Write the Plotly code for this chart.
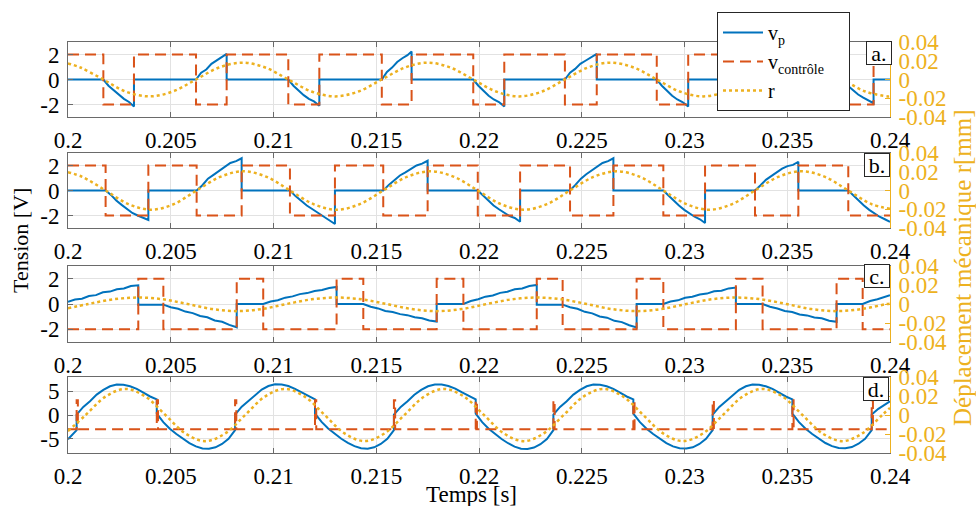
import plotly.graph_objects as go

FONT = "Liberation Serif, Times New Roman, serif"
BLUE = "#0072BD"
ORANGE = "#D95319"
YELLOW = "#EDB120"
AXC = "#6a6a6a"
GRID = "#e2e2e2"
TICK_SIZE = 23

# ---------------- ticks ----------------
x_ticks = [0.2, 0.205, 0.21, 0.215, 0.22, 0.225, 0.23, 0.235, 0.24]
x_tick_text = ["0.2", "0.205", "0.21", "0.215", "0.22", "0.225", "0.23", "0.235", "0.24"]
r_ticks = [-0.04, -0.02, 0, 0.02, 0.04]
r_tick_text = ["-0.04", "-0.02", "0", "0.02", "0.04"]
v_ticks_abc = [-2, 0, 2]
v_ticks_d = [-5, 0, 5]
panel_labels = ["a.", "b.", "c.", "d."]
legend_names = ["v<sub>p</sub>", "v<sub>contrôle</sub>&nbsp;&nbsp;&nbsp;&nbsp;", "r"]

# ---------------- panel a ----------------
vp_a_t = [0.2,
          0.20172, 0.20197, 0.20222, 0.20247, 0.20272, 0.20297, 0.20321, 0.20321,
          0.20623, 0.20648, 0.20673, 0.20698, 0.20723, 0.20748, 0.20772, 0.20772,
          0.21072, 0.21097, 0.21122, 0.21147, 0.21172, 0.21197, 0.21223, 0.21223,
          0.21527, 0.21552, 0.21577, 0.21602, 0.21627, 0.21652, 0.21672, 0.21672,
          0.21972, 0.21997, 0.22022, 0.22047, 0.22072, 0.22097, 0.22123, 0.22123,
          0.22418, 0.22443, 0.22468, 0.22493, 0.22518, 0.22543, 0.22573, 0.22573,
          0.22865, 0.2289, 0.22915, 0.2294, 0.22965, 0.2299, 0.23018, 0.23018,
          0.23315, 0.2334, 0.23365, 0.2339, 0.23415, 0.2344, 0.2347, 0.2347,
          0.2377, 0.23795, 0.2382, 0.23845, 0.2387, 0.23895, 0.2392, 0.2392,
          0.24]
vp_a_v = [0,
          0, -0.5, -0.85, -1.25, -1.55, -1.8, -2.15, 0,
          0, 0.55, 0.8, 1.25, 1.5, 1.75, 2.05, 0,
          0, -0.5, -0.9, -1.25, -1.55, -1.75, -2.1, 0,
          0, 0.6, 0.95, 1.4, 1.7, 1.95, 2.25, 0,
          0, -0.5, -0.9, -1.3, -1.6, -1.8, -2.15, 0,
          0, 0.55, 0.85, 1.25, 1.5, 1.75, 2.05, 0,
          0, -0.5, -0.9, -1.3, -1.6, -1.8, -2.15, 0,
          0, 0.55, 0.85, 1.25, 1.5, 1.75, 2.05, 0,
          0, -0.5, -0.85, -1.2, -1.45, -1.65, -1.9, 0,
          0]
ctrl_a_t = [0.2, 0.20172, 0.20321, 0.20623, 0.20772, 0.21072, 0.21223, 0.21527, 0.21672, 0.21972,
            0.22123, 0.22418, 0.22573, 0.22865, 0.23018, 0.23315, 0.2347, 0.2377, 0.2392, 0.24]
ctrl_a_v = [2, -2, 2, -2, 2, -2, 2, -2, 2, -2, 2, -2, 2, -2, 2, -2, 2, -2, 2, 2]
r_a_t = [0.2, 0.2006, 0.20172, 0.2028, 0.20397, 0.2051, 0.20623, 0.20735, 0.20848, 0.2096,
         0.21072, 0.21185, 0.213, 0.21413, 0.21527, 0.2164, 0.2175, 0.2186, 0.21972, 0.22083,
         0.22195, 0.22307, 0.22418, 0.2253, 0.2264, 0.22753, 0.22865, 0.22977, 0.2309, 0.23203,
         0.23315, 0.23428, 0.2354, 0.23655, 0.2377, 0.2388, 0.2399, 0.24]
r_a_v = [0.0172, 0.0128, 0, -0.0128, -0.018, -0.0128, 0, 0.0128, 0.018, 0.0128,
         0, -0.0128, -0.018, -0.0128, 0, 0.0128, 0.018, 0.0128, 0, -0.0128,
         -0.018, -0.0128, 0, 0.0128, 0.018, 0.0128, 0, -0.0128, -0.018, -0.0128,
         0, 0.0128, 0.018, 0.0128, 0, -0.0128, -0.018, -0.0179]

# ---------------- panel b ----------------
vp_b_t = [0.2,
          0.20183, 0.20209, 0.20235, 0.20261, 0.20287, 0.20313, 0.20339, 0.20365, 0.20391, 0.20391,
          0.20626, 0.20653, 0.20681, 0.20708, 0.20736, 0.20763, 0.2079, 0.20818, 0.20845, 0.20845,
          0.2108, 0.21107, 0.21135, 0.21162, 0.2119, 0.21217, 0.21244, 0.21272, 0.21299, 0.21299,
          0.21534, 0.21561, 0.21588, 0.21615, 0.21642, 0.21669, 0.21696, 0.21723, 0.2175, 0.2175,
          0.21994, 0.2202, 0.22046, 0.22071, 0.22097, 0.22123, 0.22149, 0.22174, 0.222, 0.222,
          0.22443, 0.22469, 0.22496, 0.22522, 0.22549, 0.22575, 0.22601, 0.22628, 0.22654, 0.22654,
          0.22897, 0.22922, 0.22948, 0.22973, 0.22999, 0.23024, 0.23049, 0.23075, 0.231, 0.231,
          0.23343, 0.23369, 0.23396, 0.23422, 0.23449, 0.23475, 0.23501, 0.23528, 0.23554, 0.23554,
          0.23797, 0.23822, 0.23848, 0.23873, 0.23899, 0.23924, 0.23949, 0.23975, 0.24]
vp_b_v = [0,
          0, -0.35, -0.8, -1.15, -1.45, -1.8, -2.0, -2.2, -2.36, 0,
          0, 0.4, 0.95, 1.25, 1.6, 1.9, 2.2, 2.35, 2.58, 0,
          0, -0.45, -0.85, -1.2, -1.5, -1.8, -2.05, -2.35, -2.68, 0,
          0, 0.45, 0.85, 1.2, 1.45, 1.75, 2.0, 2.15, 2.38, 0,
          0, -0.4, -0.85, -1.2, -1.5, -1.8, -2.05, -2.2, -2.5, 0,
          0, 0.45, 0.95, 1.3, 1.6, 1.9, 2.2, 2.35, 2.58, 0,
          0, -0.4, -0.85, -1.2, -1.55, -1.85, -2.1, -2.3, -2.6, 0,
          0, 0.4, 0.85, 1.15, 1.45, 1.75, 1.95, 2.05, 2.3, 0,
          0, -0.4, -0.85, -1.2, -1.55, -1.85, -2.1, -2.3, -2.5]
ctrl_b_t = [0.2, 0.20183, 0.20391, 0.20626, 0.20845, 0.2108, 0.21299, 0.21534, 0.2175, 0.21994,
            0.222, 0.22443, 0.22654, 0.22897, 0.231, 0.23343, 0.23554, 0.23797, 0.24]
ctrl_b_v = [2, -2, 2, -2, 2, -2, 2, -2, 2, -2, 2, -2, 2, -2, 2, -2, 2, -2, -2]
r_b_t = [0.2, 0.2007, 0.20183, 0.20294, 0.20405, 0.20515, 0.20626, 0.2074, 0.20853, 0.20967,
         0.2108, 0.21194, 0.21307, 0.2142, 0.21534, 0.21649, 0.21764, 0.21879, 0.21994, 0.22106,
         0.22218, 0.22331, 0.22443, 0.22557, 0.2267, 0.22784, 0.22897, 0.23009, 0.2312, 0.23232,
         0.23343, 0.23456, 0.2357, 0.23684, 0.23797, 0.2391, 0.24]
r_b_v = [0.0196, 0.0145, 0, -0.0145, -0.0205, -0.0145, 0, 0.0145, 0.0205, 0.0145,
         0, -0.0145, -0.0205, -0.0145, 0, 0.0145, 0.0205, 0.0145, 0, -0.0145,
         -0.0205, -0.0145, 0, 0.0145, 0.0205, 0.0145, 0, -0.0145, -0.0205, -0.0145,
         0, 0.0145, 0.0205, 0.0145, 0, -0.0145, -0.0195]

# ---------------- panel c ----------------
vp_c_t = [0.2, 0.20034, 0.20068, 0.20102, 0.20136, 0.2017, 0.20204, 0.20238, 0.20272, 0.20306, 0.20342, 0.20342, 0.20464,
          0.205, 0.20536, 0.20571, 0.20607, 0.20643, 0.20678, 0.20714, 0.2075, 0.20785, 0.20821, 0.20821, 0.2095,
          0.20986, 0.21021, 0.21057, 0.21093, 0.21128, 0.21164, 0.212, 0.21236, 0.21271, 0.21307, 0.21307, 0.21437,
          0.21473, 0.21509, 0.21544, 0.2158, 0.21616, 0.21651, 0.21687, 0.21723, 0.21758, 0.21794, 0.21794, 0.21924,
          0.2196, 0.21996, 0.22031, 0.22067, 0.22103, 0.22138, 0.22174, 0.2221, 0.22245, 0.22281, 0.22281, 0.22407,
          0.22443, 0.22479, 0.22515, 0.22551, 0.22587, 0.22623, 0.22659, 0.22695, 0.22731, 0.22767, 0.22767, 0.22897,
          0.22932, 0.22968, 0.23003, 0.23038, 0.23074, 0.23109, 0.23144, 0.2318, 0.23215, 0.2325, 0.2325, 0.2338,
          0.23416, 0.23452, 0.23488, 0.23524, 0.2356, 0.23596, 0.23632, 0.23668, 0.23704, 0.2374, 0.2374, 0.23867,
          0.23903, 0.23939, 0.23975, 0.24]
vp_c_v = [0.18, 0.35, 0.42, 0.63, 0.7, 0.92, 0.98, 1.16, 1.22, 1.42, 1.48, -0.05, -0.05,
          -0.25, -0.38, -0.6, -0.72, -0.95, -1.05, -1.3, -1.4, -1.65, -1.84, 0, 0,
          0.2, 0.3, 0.5, 0.6, 0.78, 0.86, 1.03, 1.1, 1.26, 1.35, 0, 0,
          -0.22, -0.35, -0.55, -0.63, -0.8, -0.88, -1.05, -1.12, -1.3, -1.38, 0, 0,
          0.24, 0.37, 0.58, 0.67, 0.88, 0.97, 1.16, 1.22, 1.42, 1.5, -0.05, -0.05,
          -0.25, -0.38, -0.62, -0.74, -0.98, -1.08, -1.33, -1.43, -1.68, -1.85, 0, 0,
          0.2, 0.29, 0.49, 0.57, 0.75, 0.82, 1.0, 1.05, 1.23, 1.3, 0, 0,
          -0.22, -0.35, -0.55, -0.63, -0.83, -0.9, -1.07, -1.13, -1.32, -1.4, 0, 0,
          0.24, 0.37, 0.6, 0.7]
ctrl_c_t = [0.2, 0.20342, 0.20464, 0.20821, 0.2095, 0.21307, 0.21437, 0.21794, 0.21924, 0.22281,
            0.22407, 0.22767, 0.22897, 0.2325, 0.2338, 0.2374, 0.23867, 0.24]
ctrl_c_v = [-2, 2, -2, 2, -2, 2, -2, 2, -2, 2, -2, 2, -2, 2, -2, 2, -2, -2]
r_c_t = [0.2, 0.20099, 0.2022, 0.20342, 0.20463, 0.20582, 0.20702, 0.20821, 0.20943, 0.21064,
         0.21185, 0.21307, 0.21429, 0.2155, 0.21672, 0.21794, 0.21916, 0.22038, 0.22159, 0.22281,
         0.22402, 0.22524, 0.22645, 0.22767, 0.22888, 0.23009, 0.2313, 0.2325, 0.23373, 0.23495,
         0.23618, 0.2374, 0.23862, 0.23985, 0.24]
r_c_v = [-0.0045, 0, 0.0049, 0.0068, 0.0049, 0, -0.0053, -0.0075, -0.0053, 0,
         0.0049, 0.0068, 0.0049, 0, -0.0053, -0.0075, -0.0053, 0, 0.0049, 0.0068,
         0.0049, 0, -0.0053, -0.0075, -0.0053, 0, 0.0049, 0.0068, 0.0049, 0,
         -0.0053, -0.0075, -0.0053, 0, 0.0004]

# ---------------- panel d ----------------
vp_d_t = [0.2, 0.20021, 0.20042,
          0.20042, 0.200745, 0.20107, 0.201395, 0.20172, 0.202045, 0.20237, 0.202695, 0.20302, 0.203345, 0.20367, 0.203995, 0.20432,
          0.20432, 0.204638, 0.204955, 0.205273, 0.20559, 0.205908, 0.206225, 0.206543, 0.20686, 0.207178, 0.207495, 0.207813, 0.20813,
          0.20813, 0.208454, 0.208778, 0.209103, 0.209427, 0.209751, 0.210075, 0.210399, 0.210723, 0.211048, 0.211372, 0.211696, 0.21202,
          0.21202, 0.21234, 0.21266, 0.21298, 0.2133, 0.21362, 0.21394, 0.21426, 0.21458, 0.2149, 0.21522, 0.21554, 0.21586,
          0.21586, 0.216192, 0.216523, 0.216855, 0.217187, 0.217518, 0.21785, 0.218182, 0.218513, 0.218845, 0.219177, 0.219508, 0.21984,
          0.21984, 0.220155, 0.22047, 0.220785, 0.2211, 0.221415, 0.22173, 0.222045, 0.22236, 0.222675, 0.22299, 0.223305, 0.22362,
          0.22362, 0.223944, 0.224268, 0.224593, 0.224917, 0.225241, 0.225565, 0.225889, 0.226213, 0.226538, 0.226862, 0.227186, 0.22751,
          0.22751, 0.227832, 0.228153, 0.228475, 0.228797, 0.229118, 0.22944, 0.229762, 0.230083, 0.230405, 0.230727, 0.231048, 0.23137,
          0.23137, 0.231693, 0.232017, 0.23234, 0.232663, 0.232987, 0.23331, 0.233633, 0.233957, 0.23428, 0.234603, 0.234927, 0.23525,
          0.23525, 0.235572, 0.235893, 0.236215, 0.236537, 0.236858, 0.23718, 0.237502, 0.237823, 0.238145, 0.238467, 0.238788, 0.23911,
          0.23911, 0.239433, 0.239757, 0.24]
vp_d_v = [-5.1, -4.2, -3.2,
          0.1, 1.7, 2.9, 4.3, 5.3, 6.05, 6.4, 6.35, 6.05, 5.5, 4.7, 3.9, 3.3,
          0.3, -1.5, -2.9, -4.0, -5.0, -5.9, -6.6, -7.05, -7.1, -6.8, -6.1, -5.0, -3.2,
          0.1, 1.75, 2.95, 4.3, 5.35, 6.1, 6.45, 6.4, 6.1, 5.5, 4.75, 3.9, 3.3,
          0.3, -1.45, -2.85, -4.0, -5.0, -5.85, -6.55, -7.0, -7.1, -6.8, -6.1, -5.0, -3.2,
          0.1, 1.7, 2.9, 4.25, 5.3, 6.05, 6.4, 6.4, 6.1, 5.55, 4.75, 3.95, 3.3,
          0.3, -1.5, -2.9, -4.05, -5.05, -5.95, -6.65, -7.1, -7.15, -6.85, -6.15, -5.05, -3.2,
          0.1, 1.7, 2.9, 4.3, 5.3, 6.05, 6.4, 6.35, 6.05, 5.5, 4.7, 3.9, 3.3,
          0.3, -1.5, -2.9, -4.0, -5.0, -5.9, -6.6, -7.0, -7.05, -6.8, -6.1, -5.0, -3.2,
          0.1, 1.7, 2.9, 4.3, 5.3, 6.05, 6.4, 6.35, 6.05, 5.5, 4.7, 3.9, 3.3,
          0.3, -1.5, -2.9, -4.0, -5.0, -5.9, -6.55, -6.95, -7.0, -6.75, -6.05, -5.0, -3.2,
          0.1, 1.3, 2.3, 2.9]
ctrl_d_t = [0.2, 0.20042, 0.20048, 0.20432, 0.20438, 0.20813, 0.20819, 0.21202, 0.21208, 0.21586,
            0.21592, 0.21984, 0.2199, 0.22362, 0.22368, 0.22751, 0.22757, 0.23137, 0.23143, 0.23525,
            0.23531, 0.23911, 0.23917, 0.24]
ctrl_d_v = [-3, 3.1, -3, 3.1, -3, 3.1, -3, 3.1, -3, 3.1,
            -3, 3.1, -3, 3.1, -3, 3.1, -3, 3.1, -3, 3.1,
            -3, 3.1, -3, -3]
r_d_t = [0.2, 0.20086, 0.20183, 0.2028, 0.20377, 0.20474, 0.20571, 0.20668, 0.20765, 0.20862,
         0.20958, 0.21055, 0.21152, 0.21249, 0.21346, 0.21443, 0.2154, 0.21637, 0.21733, 0.2183,
         0.21927, 0.22024, 0.22121, 0.22218, 0.22315, 0.22412, 0.22508, 0.22605, 0.22702, 0.22799,
         0.22896, 0.22993, 0.2309, 0.23187, 0.23283, 0.2338, 0.23477, 0.23574, 0.23671, 0.23768,
         0.23865, 0.23962, 0.24]
r_d_v = [-0.017, 0, 0.0194, 0.0275, 0.0194, 0, -0.0194, -0.0275, -0.0194, 0,
         0.0194, 0.0275, 0.0194, 0, -0.0194, -0.0275, -0.0194, 0, 0.0194, 0.0275,
         0.0194, 0, -0.0194, -0.0275, -0.0194, 0, 0.0194, 0.0275, 0.0194, 0,
         -0.0194, -0.0275, -0.0194, 0, 0.0194, 0.0275, 0.0194, 0, -0.0194, -0.0275,
         -0.0194, 0, 0.0075]

panels = [
    (vp_a_t, vp_a_v, ctrl_a_t, ctrl_a_v, r_a_t, r_a_v, [-3, 3], v_ticks_abc),
    (vp_b_t, vp_b_v, ctrl_b_t, ctrl_b_v, r_b_t, r_b_v, [-3, 3], v_ticks_abc),
    (vp_c_t, vp_c_v, ctrl_c_t, ctrl_c_v, r_c_t, r_c_v, [-3, 3], v_ticks_abc),
    (vp_d_t, vp_d_v, ctrl_d_t, ctrl_d_v, r_d_t, r_d_v, [-8, 8], v_ticks_d),
]
for p in panels:
    assert len(p[0]) == len(p[1]) and len(p[2]) == len(p[3]) and len(p[4]) == len(p[5])

# ---------------- layout geometry (pixels of the 976x506 canvas) ----------------
W, H = 976, 506
X0, X1 = 68, 890
panel_px = [(42, 117), (153, 228), (266, 342), (377, 453)]
label_centers = [(879, 53.5), (877, 164.5), (877, 275.5), (876, 389)]

def py(v):
    return 1 - v / H

fig = go.Figure()
layout = dict(
    width=W, height=H, margin=dict(l=0, r=0, t=0, b=0, autoexpand=False),
    paper_bgcolor="white", plot_bgcolor="white",
    font=dict(family=FONT, size=22, color="black"),
    showlegend=True,
    legend=dict(x=717 / W, y=py(12), xanchor="left", yanchor="top",
                bgcolor="white", bordercolor="#262626", borderwidth=1,
                font=dict(family=FONT, size=20, color="black"),
                tracegroupgap=0, itemwidth=40),
)

annotations = []
for i, (vt, vv, ct, cv, rt, rv, yr, yt) in enumerate(panels):
    k = i + 1
    xa = "x" if k == 1 else f"x{k}"
    ya = "y" if k == 1 else f"y{k}"
    yr_name = f"y{k + 4}"
    top, bot = panel_px[i]
    dom = [py(bot), py(top)]
    layout["xaxis" if k == 1 else f"xaxis{k}"] = dict(
        domain=[X0 / W, X1 / W], anchor=ya, range=[0.2, 0.24], automargin=False,
        tickmode="array", tickvals=x_ticks, ticktext=x_tick_text,
        showgrid=True, gridcolor=GRID, gridwidth=1, zeroline=False,
        showline=True, linecolor=AXC, linewidth=1, mirror="ticks",
        ticks="inside", ticklen=5, tickcolor=AXC,
        tickfont=dict(family=FONT, size=TICK_SIZE, color="black"), ticklabelstandoff=2,
    )
    layout["yaxis" if k == 1 else f"yaxis{k}"] = dict(
        domain=dom, anchor=xa, range=yr, automargin=False,
        tickmode="array", tickvals=yt, ticktext=[str(v) for v in yt],
        showgrid=True, gridcolor=GRID, gridwidth=1, zeroline=False,
        showline=True, linecolor=AXC, linewidth=1,
        ticks="inside", ticklen=5, tickcolor=AXC,
        tickfont=dict(family=FONT, size=TICK_SIZE, color="black"), ticklabelstandoff=3,
    )
    layout[f"yaxis{k + 4}"] = dict(
        overlaying=ya, anchor=xa, side="right", range=[-0.04, 0.04], automargin=False,
        tickmode="array", tickvals=r_ticks, ticktext=r_tick_text,
        showgrid=False, zeroline=False,
        showline=True, linecolor=YELLOW, linewidth=1,
        ticks="inside", ticklen=5, tickcolor=YELLOW,
        tickfont=dict(family=FONT, size=TICK_SIZE, color=YELLOW), ticklabelstandoff=3,
    )
    show = (i == 0)
    fig.add_trace(go.Scatter(x=vt, y=vv, mode="lines", name=legend_names[0],
                             line=dict(color=BLUE, width=2), xaxis=xa, yaxis=ya,
                             showlegend=show))
    fig.add_trace(go.Scatter(x=ct, y=cv, mode="lines", name=legend_names[1],
                             line=dict(color=ORANGE, width=2, dash="11px,6px", shape="hv"),
                             xaxis=xa, yaxis=ya, showlegend=show))
    fig.add_trace(go.Scatter(x=rt, y=rv, mode="lines", name=legend_names[2],
                             line=dict(color=YELLOW, width=2.5, dash="dot", shape="spline"),
                             xaxis=xa, yaxis=yr_name, showlegend=show))
    cx, cy = label_centers[i]
    annotations.append(dict(
        x=cx / W, y=py(cy), xref="paper", yref="paper", text=panel_labels[i],
        showarrow=False, xanchor="center", yanchor="middle",
        font=dict(family=FONT, size=22, color="black"),
        bgcolor="white", bordercolor="#262626", borderwidth=1, borderpad=0,
        width=24, height=22,
    ))

annotations.append(dict(x=20 / W, y=py(241), xref="paper", yref="paper", text="Tension [V]",
                        textangle=-90, showarrow=False, xanchor="center", yanchor="middle",
                        font=dict(family=FONT, size=22, color="black")))
annotations.append(dict(x=962 / W, y=py(268), xref="paper", yref="paper",
                        text="Déplacement mécanique r[mm]",
                        textangle=-90, showarrow=False, xanchor="center", yanchor="middle",
                        font=dict(family=FONT, size=25, color=YELLOW)))
annotations.append(dict(x=471 / W, y=py(494), xref="paper", yref="paper", text="Temps [s]",
                        showarrow=False, xanchor="center", yanchor="middle",
                        font=dict(family=FONT, size=23, color="black")))
layout["annotations"] = annotations

fig.update_layout(**layout)
fig.write_html("out.html", config={"displayModeBar": False, "staticPlot": True},
               post_script="document.body.style.margin='0px';")
